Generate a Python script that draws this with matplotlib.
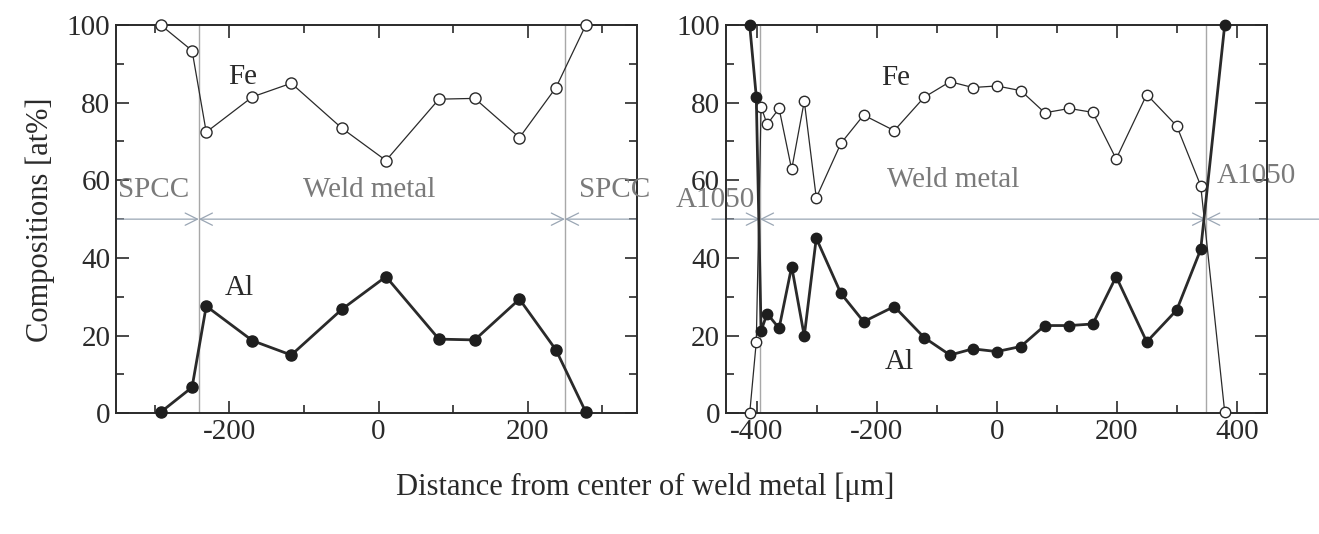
import matplotlib
matplotlib.use("Agg")
import matplotlib.pyplot as plt
from matplotlib.ticker import MultipleLocator, FixedLocator

plt.rcParams['font.family'] = ['Liberation Serif', 'DejaVu Serif']
plt.rcParams['axes.unicode_minus'] = False

# ---- Left panel (SPCC / Weld metal / SPCC) ----
left_x = [-292, -250, -231, -169, -117, -49, 10, 81, 129, 189, 238, 278]
left_fe = [100, 93.4, 72.4, 81.5, 85.0, 73.4, 65.1, 80.9, 81.1, 71.0, 83.9, 100]
left_al = [0.3, 6.7, 27.6, 18.7, 15.0, 26.8, 35.2, 19.1, 18.9, 29.4, 16.3, 0.3]
left_bounds = [-241, 250]

# ---- Right panel (A1050 / Weld metal / A1050) ----
right_x = [-412, -401, -393, -383, -363, -342, -321, -301, -260, -222, -171,
           -121, -78, -40, 0, 40, 80, 121, 160, 199, 250, 300, 340, 380]
right_fe = [0, 18.4, 79.0, 74.4, 78.5, 62.8, 80.4, 55.5, 69.5, 76.8, 72.8,
            81.4, 85.4, 83.9, 84.3, 83.1, 77.4, 78.5, 77.5, 65.5, 82.1, 74.0, 58.6, 0.3]
right_al = [100, 81.5, 21.2, 25.7, 21.9, 37.8, 19.9, 45.1, 30.9, 23.6, 27.5,
            19.5, 15.0, 16.6, 15.9, 17.2, 22.6, 22.6, 23.0, 35.2, 18.4, 26.6, 42.2, 100]
right_bounds = [-395, 349]

y_ticks = [0, 20, 40, 60, 80, 100]

W, H = 1319, 534
fig = plt.figure(figsize=(W / 100, H / 100), dpi=100)

def fx(px):
    return px / W

def fy(py):
    return 1 - py / H

ax1 = fig.add_axes([fx(116), fy(413.3), fx(637.3) - fx(116), fy(25) - fy(413.3)])
ax2 = fig.add_axes([fx(725.7), fy(413.3), fx(1266.7) - fx(725.7), fy(25) - fy(413.3)])

FS = 21
ink = '#2a2a2a'
gray_txt = '#7a7a7a'
vline_c = '#a8a8a8'
arrow_c = '#9aa6b4'

def style(ax, xlim, xmaj, xmin):
    ax.set_xlim(*xlim)
    ax.set_ylim(0, 100)
    ax.xaxis.set_major_locator(FixedLocator(xmaj))
    ax.xaxis.set_minor_locator(FixedLocator(xmin))
    ax.yaxis.set_major_locator(FixedLocator(y_ticks))
    ax.yaxis.set_minor_locator(MultipleLocator(10))
    ax.tick_params(which='both', direction='in', top=True, right=True,
                   color=ink, width=1.2, labelsize=FS, labelcolor=ink)
    ax.tick_params(which='major', length=9, pad=4)
    ax.tick_params(which='minor', length=6)
    for s in ax.spines.values():
        s.set_color(ink)
        s.set_linewidth(1.4)

def draw(ax, x, fe, al, ms):
    ax.plot(x, fe, '-', color=ink, lw=0.9, marker='o', ms=ms,
            mfc='white', mec=ink, mew=1.0, zorder=4, clip_on=False)
    ax.plot(x, al, '-', color=ink, lw=2.0, marker='o', ms=ms,
            mfc='#1e1e1e', mec='#1e1e1e', zorder=5, clip_on=False)

def arrow(ax, x0, x1, style_):
    ax.annotate('', xy=(x1, 50), xytext=(x0, 50), xycoords='data',
                arrowprops=dict(arrowstyle=style_, color=arrow_c, lw=0.9,
                                shrinkA=0, shrinkB=0, mutation_scale=22),
                annotation_clip=False, zorder=2)

# Left panel
style(ax1, (-352, 347), [-200, 0, 200], [-300, -100, 100, 300])
for b in left_bounds:
    ax1.axvline(b, color=vline_c, lw=1.0, zorder=1)
arrow(ax1, -352, left_bounds[0], '->')
arrow(ax1, left_bounds[0], left_bounds[1], '<->')
arrow(ax1, 347, left_bounds[1], '->')
draw(ax1, left_x, left_fe, left_al, 8)
ax1.text(-182, 86.7, 'Fe', fontsize=FS, color=ink, ha='center', va='center')
ax1.text(-187, 32.2, 'Al', fontsize=FS, color=ink, ha='center', va='center')
ax1.text(-302, 57.5, 'SPCC', fontsize=FS, color=gray_txt, ha='center', va='center', clip_on=False)
ax1.text(-12, 57.5, 'Weld metal', fontsize=FS, color=gray_txt, ha='center', va='center')
ax1.text(316, 57.5, 'SPCC', fontsize=FS, color=gray_txt, ha='center', va='center', clip_on=False)

# Right panel
style(ax2, (-452, 450), [-400, -200, 0, 200, 400], [-300, -100, 100, 300])
for b in right_bounds:
    ax2.axvline(b, color=vline_c, lw=1.0, zorder=1)
arrow(ax2, -475, right_bounds[0], '->')
arrow(ax2, right_bounds[0], right_bounds[1], '<->')
arrow(ax2, 540, right_bounds[1], '->')
draw(ax2, right_x, right_fe, right_al, 7.5)
ax2.text(-169, 86.3, 'Fe', fontsize=FS, color=ink, ha='center', va='center')
ax2.text(-162, 13.3, 'Al', fontsize=FS, color=ink, ha='center', va='center')
ax2.text(-73, 60.1, 'Weld metal', fontsize=FS, color=gray_txt, ha='center', va='center')
ax2.text(-470, 54.9, 'A1050', fontsize=FS, color=gray_txt, ha='center', va='center', clip_on=False)
ax2.text(433, 61, 'A1050', fontsize=FS, color=gray_txt, ha='center', va='center', clip_on=False)

fig.text(fx(40), fy(220), 'Compositions [at%]', rotation=90, fontsize=22,
         color=ink, ha='center', va='center')
fig.text(fx(645), fy(487), 'Distance from center of weld metal [μm]', fontsize=22,
         color=ink, ha='center', va='center')

fig.savefig('out.png', dpi=100)
